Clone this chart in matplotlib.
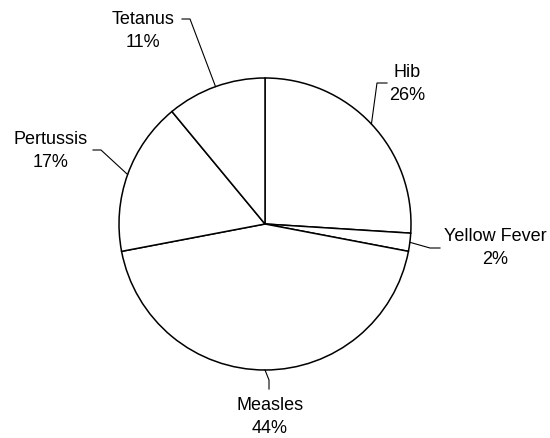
import numpy as np
import matplotlib
matplotlib.use("Agg")
import matplotlib.pyplot as plt

plt.rcParams['font.family'] = ['Liberation Sans', 'DejaVu Sans']

labels = ['Hib', 'Yellow Fever', 'Measles', 'Pertussis', 'Tetanus']
shares = [26, 2, 44, 17, 11]

W, H = 550, 438
def px(x, y):
    # image pixel coords (y down) -> axes data coords (y up)
    return x, H - y

cx, cy = px(265, 224)
R = 146

# label text centres and leader elbows, in image pixels
text_pos = {
    'Hib': (407, 84),
    'Yellow Fever': (495, 248),
    'Measles': (270, 417),
    'Pertussis': (51, 151),
    'Tetanus': (143, 31),
}
elbows = {
    'Hib': [(377, 83), (387, 83)],
    'Yellow Fever': [(430, 248), (440, 248)],
    'Measles': [(269, 380), (269, 389)],
    'Pertussis': [(101, 150), (93, 150)],
    'Tetanus': [(190, 19), (182, 19)],
}

fig = plt.figure(figsize=(W / 100, H / 100), dpi=100)
ax = fig.add_axes([0, 0, 1, 1])

wedges, _ = ax.pie(shares, startangle=90, counterclock=False,
                   center=(cx, cy), radius=R,
                   colors=['white'] * len(shares),
                   wedgeprops=dict(edgecolor='black', linewidth=1.1))

for w, lab, val in zip(wedges, labels, shares):
    mid = np.deg2rad((w.theta1 + w.theta2) / 2)
    x0, y0 = cx + R * np.cos(mid), cy + R * np.sin(mid)
    pts = [(x0, y0)] + [px(*p) for p in elbows[lab]]
    xs, ys = zip(*pts)
    ax.plot(xs, ys, color='black', lw=0.8)
    tx, ty = px(*text_pos[lab])
    ax.text(tx, ty, f'{lab}\n{val}%', ha='center', va='center',
            fontsize=13, linespacing=1.4)

ax.set_xlim(0, W)
ax.set_ylim(0, H)
ax.set_aspect('equal')
ax.axis('off')

fig.savefig('out.png', dpi=100, facecolor='white')
